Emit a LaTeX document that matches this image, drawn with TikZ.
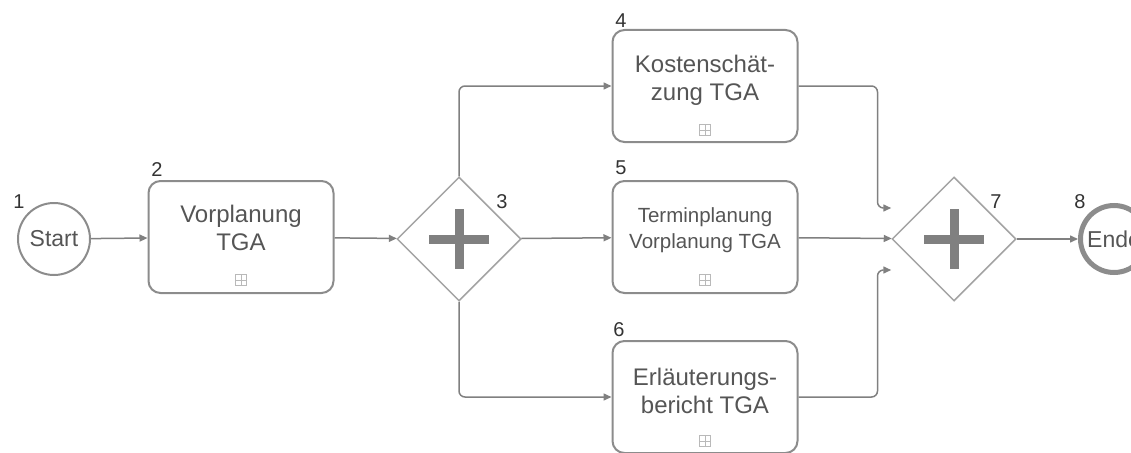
\documentclass[tikz,border=0pt]{standalone}
\usepackage{fontspec}
\setmainfont{Liberation Sans}
\usepackage{tikz}
\usetikzlibrary{shapes.geometric,arrows.meta}
\definecolor{bpmgray}{HTML}{808080}
\definecolor{boxgray}{HTML}{8C8C8C}
\definecolor{txtgray}{HTML}{555555}

\begin{document}
\begin{tikzpicture}[
  x=1pt, y=-1pt,
  task/.style={draw=boxgray, line width=2pt, rounded corners=12pt, minimum width=185pt, minimum height=112pt, inner sep=0pt},
  ttext/.style={align=center, text=txtgray, font=\fontsize{24}{28}\selectfont},
  stext/.style={align=center, text=txtgray, font=\fontsize{20.5}{26}\selectfont},
  gate/.style={diamond, draw=boxgray!80, line width=1.5pt, minimum width=124pt, minimum height=124pt, inner sep=0pt,
    path picture={
      \fill[bpmgray] (path picture bounding box.center) ++(-30pt,-4.5pt) rectangle ++(60pt,9pt);
      \fill[bpmgray] (path picture bounding box.center) ++(-4.5pt,-30pt) rectangle ++(9pt,60pt);}},
  event/.style={circle, draw=boxgray, line width=2pt, minimum size=72pt, inner sep=0pt, text=txtgray, font=\fontsize{23}{28}\selectfont},
  endevent/.style={event, line width=5pt, minimum size=67pt},
  sub/.style={draw=gray!55, line width=0.8pt, minimum size=11pt, inner sep=0pt,
    path picture={\draw[gray!55, line width=0.8pt] (path picture bounding box.north) -- (path picture bounding box.south)
      (path picture bounding box.west) -- (path picture bounding box.east);}},
  num/.style={text=black!80, font=\fontsize{20}{24}\selectfont, inner sep=0pt},
  flow/.style={-{Triangle[length=8pt,width=7pt]}, draw=bpmgray, line width=1.5pt, rounded corners=6pt}
]
\useasboundingbox (0,0) rectangle (1131,452);
\clip (0,0) rectangle (1131,452);

% events and gateways
\node[event] (start) at (54,239) {Start};
\node[gate] (g3) at (459,239) {};
\node[gate] (g7) at (954,239) {};
\node[endevent] (end) at (1114,239) {Ende};

% tasks
\node[task] (t2) at (241,237) {};
\node[task] (t4) at (705,86) {};
\node[task] (t5) at (705,237) {};
\node[task] (t6) at (705,397) {};

\node[ttext] (x2) at ([yshift=9pt]t2.center) {Vorplanung\\TGA};
\node[ttext] (x4) at ([yshift=6pt]t4.center) {Kostenschät-\\zung TGA};
\node[stext] (x5) at ([yshift=7pt]t5.center) {Terminplanung\\Vorplanung TGA};
\node[ttext] (x6) at ([yshift=6pt]t6.center) {Erläuterungs-\\bericht TGA};

\node[sub] (s2) at ([yshift=14pt]t2.south) {};
\node[sub] (s4) at ([yshift=13pt]t4.south) {};
\node[sub] (s5) at ([yshift=14pt]t5.south) {};
\node[sub] (s6) at ([yshift=13pt]t6.south) {};

% numbers
\node[num] (n1) at (19,202) {1};
\node[num] (n2) at (157,170) {2};
\node[num] (n3) at (502,202) {3};
\node[num] (n4) at (621,21) {4};
\node[num] (n5) at (621,168) {5};
\node[num] (n6) at (619,330) {6};
\node[num] (n7) at (996,202) {7};
\node[num] (n8) at (1080,202) {8};

% sequence flows
\draw[flow] (start) -- (t2);
\draw[flow] (t2) -- (g3);
\draw[flow] (g3.north) |- (t4.west);
\draw[flow] (g3) -- (t5);
\draw[flow] (g3.south) |- (t6.west);
\draw[flow] (t4.east) -- ++(79,0) |- ([yshift=31pt]g7.west);
\draw[flow] (t5) -- (g7);
\draw[flow] (t6.east) -- ++(79,0) |- ([yshift=-31pt]g7.west);
\draw[flow] (g7) -- (end);
\end{tikzpicture}
\end{document}
